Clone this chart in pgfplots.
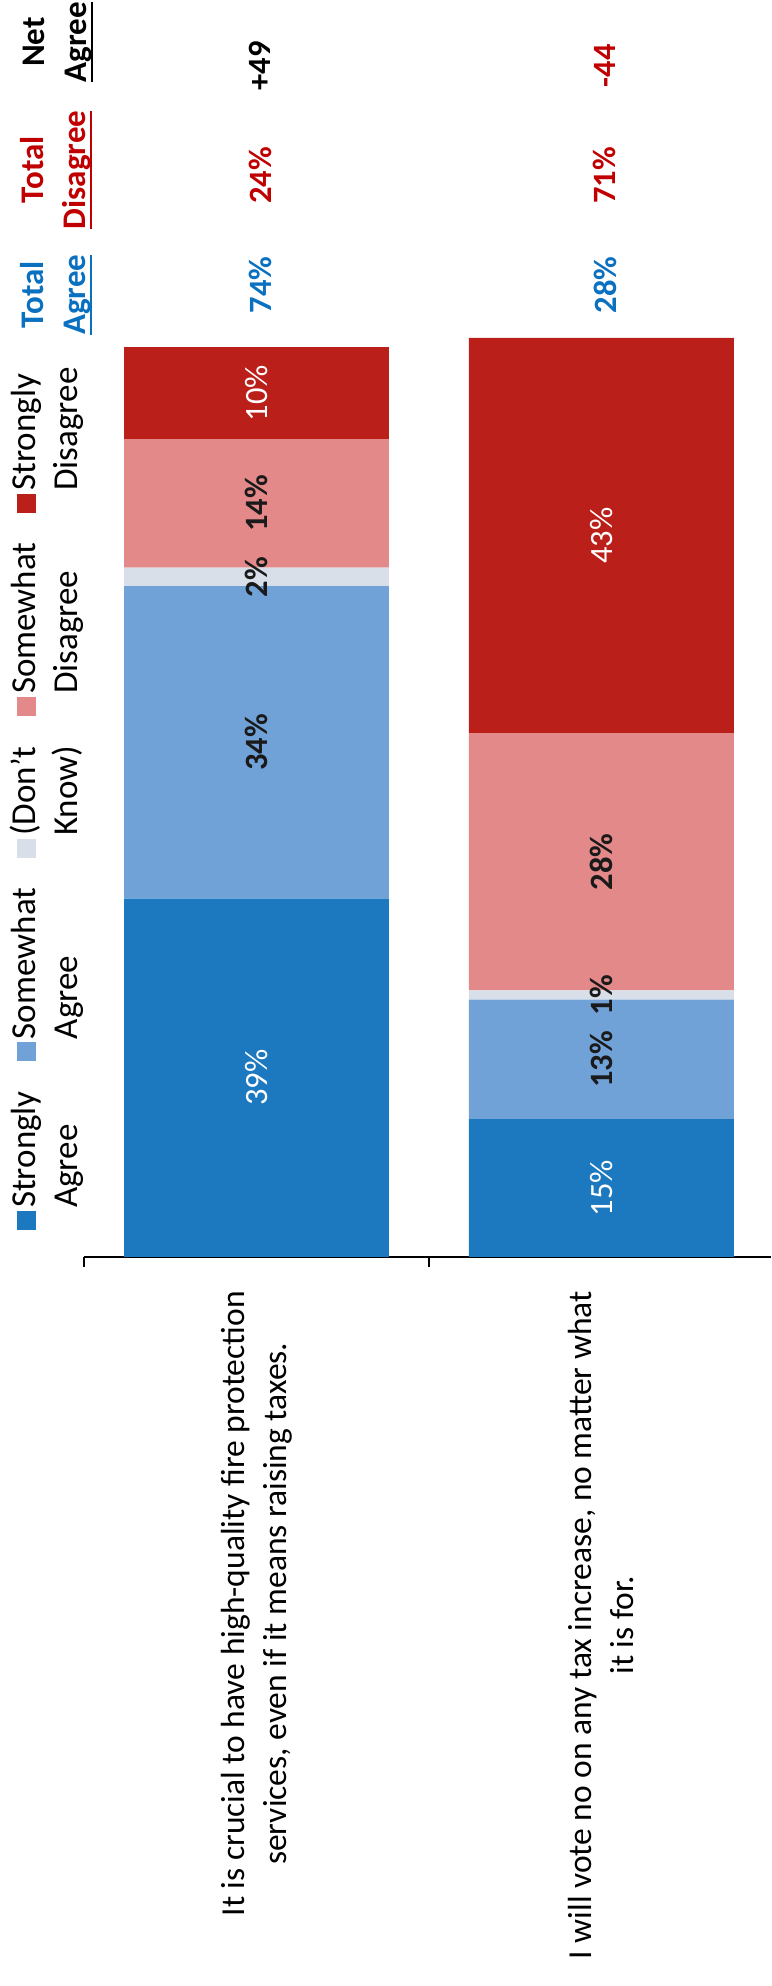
\documentclass[border=0pt]{standalone}
\usepackage{pgfplots}
\pgfplotsset{compat=1.18}
\usepackage{pgfplotstable}
\usepackage{fontspec}
\setmainfont{Carlito}

\definecolor{sagree}{HTML}{1C79C0}
\definecolor{wagree}{HTML}{70A2D8}
\definecolor{dknow}{HTML}{D8DFE8}
\definecolor{wdis}{HTML}{E38989}
\definecolor{sdis}{HTML}{BA1F1A}
\definecolor{totblue}{HTML}{0A70C0}
\definecolor{totred}{HTML}{C00000}
\definecolor{lbldark}{HTML}{1A1A1A}

% statement 0: fire protection, statement 1: no tax increase (percent)
\pgfplotstableread{
x y
0 39
1 15
}\stronglyagree
\pgfplotstableread{
x y
0 34
1 13
}\somewhatagree
\pgfplotstableread{
x y
0 2
1 1
}\dontknow
\pgfplotstableread{
x y
0 14
1 28
}\somewhatdisagree
\pgfplotstableread{
x y
0 10
1 43
}\stronglydisagree

% underline with a heavier rule
\newcommand\ulbar[1]{\setbox0\hbox{#1}\rlap{\rule[-7pt]{\wd0}{2pt}}\box0}
% one legend entry: colour swatch and a two-line caption
\newcommand\lgentry[3]{\textcolor{#1}{\rule{19pt}{19pt}}\hspace{3pt}%
  \begin{tabular}[t]{@{}l@{}}#2\\#3\end{tabular}}

\pgfplotsset{
  whitelbl/.style={every node near coord/.append style={text=white, font=\fontsize{32.5}{39}\selectfont}},
  darklbl/.style={every node near coord/.append style={text=lbldark, font=\bfseries\fontsize{32.5}{39}\selectfont}},
}
\tikzset{
  hdr/.style={rotate=90, align=center, inner sep=0pt, font=\bfseries\fontsize{33}{42}\selectfont},
  val/.style={rotate=90, inner sep=0pt, font=\bfseries\fontsize{32.5}{39}\selectfont},
}

\begin{document}
\begin{tikzpicture}
\path[use as bounding box] (0pt,0pt) rectangle (771pt,1986pt);
\begin{axis}[
  at={(84pt,729pt)}, anchor=south west,
  scale only axis, width=686.5pt, height=919pt,
  xmin=-0.5, xmax=1.49, ymin=0, ymax=100,
  clip=false,
  ybar stacked, bar width=0.768,
  hide y axis,
  axis x line*=bottom,
  x axis line style={line width=1.3pt, black, -},
  xtick={-0.5,0.5,1.5}, xticklabels={},
  xtick align=outside, major tick length=10pt,
  xtick style={line width=1.3pt, black},
  extra x ticks={0,1},
  extra x tick style={major tick length=0pt},
  extra x tick labels={{It is crucial to have high-quality fire protection\\services, even if it means raising taxes.},
                       {I will vote no on any tax increase, no matter what\\it is for.}},
  xticklabel style={rotate=90, anchor=east, align=center, inner sep=0pt, font=\fontsize{33.5}{42}\selectfont},
  xticklabel shift=34pt,
  point meta=explicit,
  /pgf/number format/assume math mode=true,
  nodes near coords={\pgfmathprintnumber{\pgfplotspointmeta}\%},
  every node near coord/.append style={rotate=90, anchor=center, inner sep=0pt},
]
\addplot[fill=sagree, draw=none, whitelbl] table[x=x, y=y, meta=y] {\stronglyagree};
\addplot[fill=wagree, draw=none, darklbl] table[x=x, y=y, meta=y] {\somewhatagree};
\addplot[fill=dknow, draw=none, darklbl] table[x=x, y=y, meta=y] {\dontknow};
\addplot[fill=wdis, draw=none, darklbl] table[x=x, y=y, meta=y] {\somewhatdisagree};
\addplot[fill=sdis, draw=none, whitelbl] table[x=x, y=y, meta=y] {\stronglydisagree};

% summary columns above the bars
\node[hdr, text=totblue] at (axis cs:-0.581,104.7) {Total\\\ulbar{Agree}};
\node[hdr, text=totred] at (axis cs:-0.581,118.3) {Total\\\ulbar{Disagree}};
\node[hdr] at (axis cs:-0.575,132.2) {Net\\\ulbar{Agree}};
\node[val, text=totblue] at (axis cs:0.01,105.8) {74\%};
\node[val, text=totred] at (axis cs:0.01,117.7) {24\%};
\node[val] at (axis cs:0.01,129.6) {+49};
\node[val, text=totblue] at (axis cs:1.01,105.8) {28\%};
\node[val, text=totred] at (axis cs:1.01,117.7) {71\%};
\node[val, text=totred] at (axis cs:1.01,129.6) {-44};
\end{axis}
% legend row, turned with the rest of the chart
\node[rotate=90, anchor=north west, inner sep=0pt, font=\fontsize{35}{42}\selectfont]
  at (6pt,756pt) {\lgentry{sagree}{Strongly}{Agree}\hspace{30pt}%
  \lgentry{wagree}{Somewhat}{Agree}\hspace{30pt}%
  \lgentry{dknow}{(Don't}{Know)}\hspace{30pt}%
  \lgentry{wdis}{Somewhat}{Disagree}\hspace{30pt}%
  \lgentry{sdis}{Strongly}{Disagree}};
\end{tikzpicture}
\end{document}
